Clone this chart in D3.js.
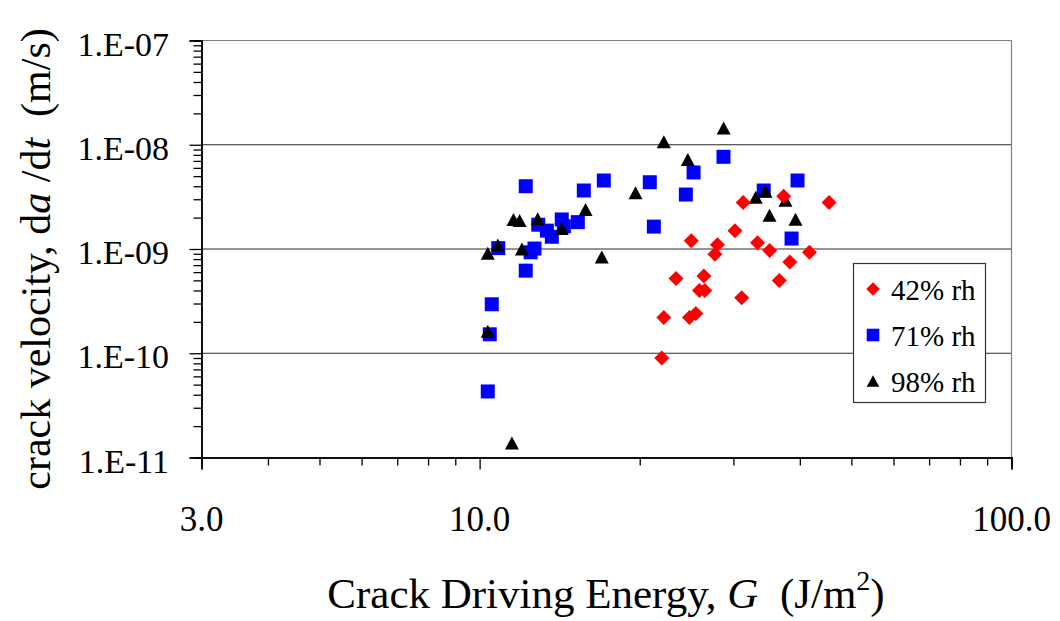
<!DOCTYPE html>
<html>
<head>
<meta charset="utf-8">
<script src="https://cdn.jsdelivr.net/npm/d3@7"></script>
<style>
  html, body { margin: 0; padding: 0; background: #fff; }
  svg { display: block; font-family: "Liberation Serif", "Times New Roman", serif; }
  text { white-space: pre; }
</style>
</head>
<body>
<svg id="chart" width="1060" height="621"></svg>
<script>
// Crack growth measurements: driving energy G (J/m^2) and crack velocity (m/s)
const series = ["42% rh", "71% rh", "98% rh"];

const g42 = [31.3, 37.3, 45.4, 30.2, 25.0, 28.0, 33.3, 35.1, 41.7, 27.7, 38.3,
             23.4, 26.4, 25.9, 26.5, 36.6, 31.1, 22.2, 24.8, 25.5, 22.0];
const v42 = [2.8e-9, 3.2e-9, 2.8e-9, 1.5e-9, 1.2e-9, 1.1e-9, 1.15e-9, 9.7e-10, 9.3e-10, 8.9e-10, 7.5e-10,
             5.2e-10, 5.5e-10, 4.0e-10, 4.0e-10, 5.0e-10, 3.4e-10, 2.2e-10, 2.2e-10, 2.4e-10, 9.0e-11];

const g71 = [10.36, 10.45, 10.54, 10.84, 12.21, 12.21, 12.47, 12.68, 12.89, 13.38, 13.67, 14.27,
             14.40, 15.30, 15.70, 17.12, 20.89, 21.26, 24.42, 25.25, 28.74, 34.21, 38.59, 39.60];
const v71 = [4.3e-11, 1.52e-10, 2.95e-10, 1.02e-9, 4.0e-9, 6.2e-10, 9.3e-10, 1.01e-9, 1.71e-9, 1.50e-9, 1.31e-9, 1.92e-9,
             1.65e-9, 1.81e-9, 3.64e-9, 4.54e-9, 4.37e-9, 1.64e-9, 3.33e-9, 5.42e-9, 7.66e-9, 3.64e-9, 1.26e-9, 4.54e-9];

const g98 = [10.36, 10.82, 11.58, 11.89, 12.86, 12.01, 14.27, 15.82, 16.97, 19.64, 22.20,
             24.63, 28.76, 33.05, 34.47, 37.59, 35.08, 39.26, 10.36, 11.50];
const v98 = [9.1e-10, 1.09e-9, 1.92e-9, 1.88e-9, 1.95e-9, 1.00e-9, 1.57e-9, 2.39e-9, 8.4e-10, 3.46e-9, 1.07e-8,
             7.2e-9, 1.45e-8, 3.14e-9, 3.58e-9, 2.94e-9, 2.11e-9, 1.93e-9, 1.63e-10, 1.38e-11];

// Axis ticks
const xMajor = [3, 10, 100];
const xTickLabels = ["3.0", "10.0", "100.0"];
const xMinor = [4, 5, 6, 7, 8, 9, 20, 30, 40, 50, 60, 70, 80, 90];
const yMajor = [1e-7, 1e-8, 1e-9, 1e-10, 1e-11];
const yTickLabels = ["1.E-07", "1.E-08", "1.E-09", "1.E-10", "1.E-11"];
const yMinor = [];
[1e-11, 1e-10, 1e-9, 1e-8].forEach(d => { for (let k = 2; k <= 9; k++) yMinor.push(d * k); });

const svg = d3.select("#chart");
const plotL = 201.5, plotR = 1011.5, plotT = 40.5, plotB = 457.5;

const x = d3.scaleLog().domain([3, 100]).range([plotL, plotR]);
const y = d3.scaleLog().domain([1e-11, 1e-7]).range([plotB, plotT]);

// Horizontal gridlines at each decade
svg.append("g")
  .selectAll("line")
  .data(yMajor.slice(1, 4))
  .join("line")
  .attr("x1", plotL).attr("x2", plotR)
  .attr("y1", d => y(d)).attr("y2", d => y(d))
  .attr("stroke", "#2a2a2a").attr("stroke-width", 1);

// Plot frame (top and right)
svg.append("path")
  .attr("d", `M${plotL},${plotT}H${plotR}V${plotB}`)
  .attr("fill", "none").attr("stroke", "#808080").attr("stroke-width", 1.2);

// Y axis: major and minor ticks
const yAxisMajor = d3.axisLeft(y).tickValues(yMajor).tickSize(12).tickFormat("");
const yAxisMinor = d3.axisLeft(y).tickValues(yMinor).tickSize(8).tickFormat("");
const gy = svg.append("g").attr("transform", `translate(${plotL},0)`);
gy.call(yAxisMajor);
gy.append("g").call(yAxisMinor);
gy.selectAll(".domain").attr("stroke", "#000").attr("stroke-width", 1.5);
gy.selectAll(".tick line").attr("stroke", "#000").attr("stroke-width", 1.3);

// Y tick labels
svg.append("g")
  .selectAll("text")
  .data(yMajor)
  .join("text")
  .attr("x", 169)
  .attr("y", d => y(d) + 15)
  .attr("text-anchor", "end")
  .attr("font-size", 34)
  .attr("fill", "#000")
  .text((d, i) => yTickLabels[i]);

// X axis: major and minor ticks
const xAxisMajor = d3.axisBottom(x).tickValues(xMajor).tickSize(12).tickFormat("");
const xAxisMinor = d3.axisBottom(x).tickValues(xMinor).tickSize(8).tickFormat("");
const gx = svg.append("g").attr("transform", `translate(0,${plotB})`);
gx.call(xAxisMajor);
gx.append("g").call(xAxisMinor);
gx.selectAll(".domain").attr("stroke", "#000").attr("stroke-width", 1.5);
gx.selectAll(".tick line").attr("stroke", "#000").attr("stroke-width", 1.3);

// X tick labels
svg.append("g")
  .selectAll("text")
  .data(xMajor)
  .join("text")
  .attr("x", d => x(d))
  .attr("y", 531)
  .attr("text-anchor", "middle")
  .attr("font-size", 35)
  .attr("fill", "#000")
  .text((d, i) => xTickLabels[i]);

// Marker shapes
const shapes = {
  diamond: "M0,-7.5L7.5,0L0,7.5L-7.5,0Z",
  square: "M-7,-7H7V7H-7Z",
  triangle: "M0,-6.5L7,6.5L-7,6.5Z"
};
const styles = [
  { shape: "diamond", color: "#ff0000" },
  { shape: "square", color: "#0000ff" },
  { shape: "triangle", color: "#000000" }
];
const data = [
  g42.map((g, i) => ({ g, v: v42[i] })),
  g71.map((g, i) => ({ g, v: v71[i] })),
  g98.map((g, i) => ({ g, v: v98[i] }))
];

// Draw series: squares, then triangles, then diamonds on top
[1, 2, 0].forEach(s => {
  svg.append("g")
    .selectAll("path")
    .data(data[s])
    .join("path")
    .attr("d", shapes[styles[s].shape])
    .attr("transform", d => `translate(${x(d.g)},${y(d.v)})`)
    .attr("fill", styles[s].color);
});

// Legend
const lg = svg.append("g");
lg.append("rect")
  .attr("x", 853.5).attr("y", 263.5).attr("width", 132).attr("height", 139)
  .attr("fill", "#fff").attr("stroke", "#333").attr("stroke-width", 1.2);
const legendY = [289, 335, 381];
series.forEach((name, i) => {
  lg.append("path")
    .attr("d", shapes[styles[i].shape])
    .attr("transform", `translate(873,${legendY[i]}) scale(0.9)`)
    .attr("fill", styles[i].color);
  lg.append("text")
    .attr("x", 891)
    .attr("y", legendY[i] + 11)
    .attr("font-size", 29)
    .attr("fill", "#000")
    .text(name);
});

// X axis title
const xt = svg.append("text")
  .attr("x", 606).attr("y", 608)
  .attr("text-anchor", "middle")
  .attr("font-size", 43)
  .attr("fill", "#000");
xt.append("tspan").text("Crack Driving Energy, ");
xt.append("tspan").attr("font-style", "italic").text("G");
xt.append("tspan").text("  (J/m");
xt.append("tspan").attr("font-size", 28).attr("dy", -18).text("2");
xt.append("tspan").attr("dy", 18).text(")");

// Y axis title
const yt = svg.append("text")
  .attr("transform", "translate(50,259) rotate(-90)")
  .attr("text-anchor", "middle")
  .attr("font-size", 42)
  .attr("fill", "#000");
yt.append("tspan").text("crack velocity, d");
yt.append("tspan").attr("font-style", "italic").text("a");
yt.append("tspan").text(" /d");
yt.append("tspan").attr("font-style", "italic").text("t");
yt.append("tspan").text("  (m/s)");
</script>
</body>
</html>
